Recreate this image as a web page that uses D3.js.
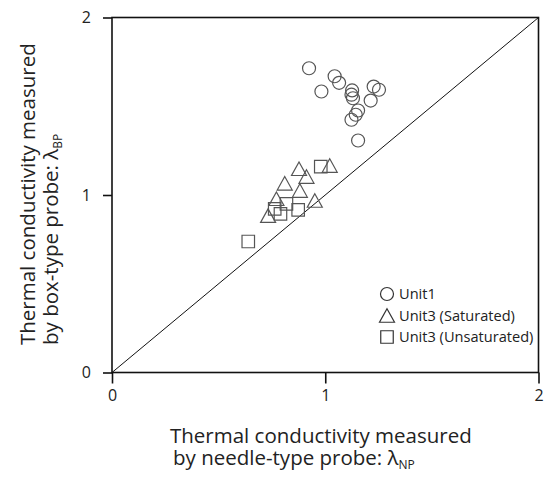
<!DOCTYPE html>
<html>
<head>
<meta charset="utf-8">
<script src="https://cdn.jsdelivr.net/npm/d3@7"></script>
<style>
  body { margin: 0; background: #fff; }
  text { font-family: "Open Sans", sans-serif; fill: #222; }
</style>
</head>
<body>
<svg id="chart" width="547" height="477"></svg>
<script>
// data (x = needle probe, y = box probe)
const unit1X = [0.924, 1.044, 1.065, 0.982, 1.126, 1.123, 1.130, 1.227, 1.252, 1.213, 1.154, 1.143, 1.123, 1.154];
const unit1Y = [1.714, 1.669, 1.632, 1.583, 1.589, 1.565, 1.545, 1.611, 1.593, 1.532, 1.476, 1.452, 1.424, 1.307];
const satX = [0.877, 1.021, 0.912, 0.810, 0.881, 0.771, 0.951, 0.732];
const satY = [1.148, 1.166, 1.104, 1.066, 1.025, 0.979, 0.969, 0.884];
const unsatX = [0.979, 0.818, 0.763, 0.790, 0.873, 0.639];
const unsatY = [1.160, 0.950, 0.922, 0.894, 0.916, 0.738];
const ticks = [0, 1, 2];
const legendLabels = ["Unit1", "Unit3 (Saturated)", "Unit3 (Unsaturated)"];

const svg = d3.select("#chart");
const x = d3.scaleLinear().domain([0, 2]).range([112, 538.5]);
const y = d3.scaleLinear().domain([0, 2]).range([372.5, 17.5]);
const mk = "#555";

// markers
const tri = (s) => `M0,${-s * 0.45}L${s / 2},${s * 0.45}L${-s / 2},${s * 0.45}Z`;
const sq = (s) => `M${-s / 2},${-s / 2}h${s}v${s}h${-s}Z`;
const shape = (g, kind) => {
  if (kind === 0) return g.append("circle").attr("r", 6.5);
  if (kind === 1) return g.append("path").attr("d", tri(15));
  return g.append("path").attr("d", sq(12.5));
};

// diagonal 1:1 line
svg.append("line")
  .attr("x1", x(0)).attr("y1", y(0)).attr("x2", x(2)).attr("y2", y(2))
  .attr("stroke", "#111").attr("stroke-width", 1);

const series = [[unit1X, unit1Y], [satX, satY], [unsatX, unsatY]];
series.forEach(([xs, ys], k) => {
  xs.forEach((v, i) => {
    const g = svg.append("g").attr("transform", `translate(${x(v)},${y(ys[i])})`);
    shape(g, k).attr("fill", "none").attr("stroke", mk).attr("stroke-width", 1.2);
  });
});

// frame
svg.append("rect")
  .attr("x", x(0)).attr("y", y(2)).attr("width", x(2) - x(0)).attr("height", y(0) - y(2))
  .attr("fill", "none").attr("stroke", "#111").attr("stroke-width", 1.6);

// axes
const xAxis = svg.append("g").attr("transform", `translate(0,${y(0)})`)
  .call(d3.axisBottom(x).tickValues(ticks).tickFormat(d3.format("d")).tickSize(11).tickPadding(6));
const yAxis = svg.append("g").attr("transform", `translate(${x(0)},0)`)
  .call(d3.axisLeft(y).tickValues(ticks).tickFormat(d3.format("d")).tickSize(9).tickPadding(12));
[xAxis, yAxis].forEach(a => {
  a.select(".domain").remove();
  a.selectAll("line").attr("stroke", "#111").attr("stroke-width", 1.6);
  a.selectAll("text").attr("font-size", 16).attr("font-family", "Open Sans, sans-serif").attr("fill", "#222");
});

// axis titles
const fs = 20.5;
svg.append("text").attr("font-size", fs).attr("x", 170).attr("y", 443)
  .text("Thermal conductivity measured");
const xt2 = svg.append("text").attr("font-size", fs).attr("x", 173).attr("y", 465);
xt2.append("tspan").text("by needle-type probe: λ");
xt2.append("tspan").attr("font-size", 12).attr("dy", 4).text("NP");

svg.append("text").attr("font-size", fs)
  .attr("transform", "translate(35,345) rotate(-90)").text("Thermal conductivity measured");
const yt2 = svg.append("text").attr("font-size", fs)
  .attr("transform", "translate(58,345) rotate(-90)");
yt2.append("tspan").text("by box-type probe: λ");
yt2.append("tspan").attr("font-size", 12).attr("dy", 4).text("BP");

// legend
const leg = svg.append("g");
legendLabels.forEach((lab, k) => {
  const cy = 294 + k * 21.5;
  const g = leg.append("g").attr("transform", `translate(387,${cy})`);
  shape(g, k).attr("fill", "none").attr("stroke", "#333").attr("stroke-width", 1.2);
  leg.append("text").attr("x", 399).attr("y", cy + 5).attr("font-size", 14.6).text(lab);
});
</script>
</body>
</html>
